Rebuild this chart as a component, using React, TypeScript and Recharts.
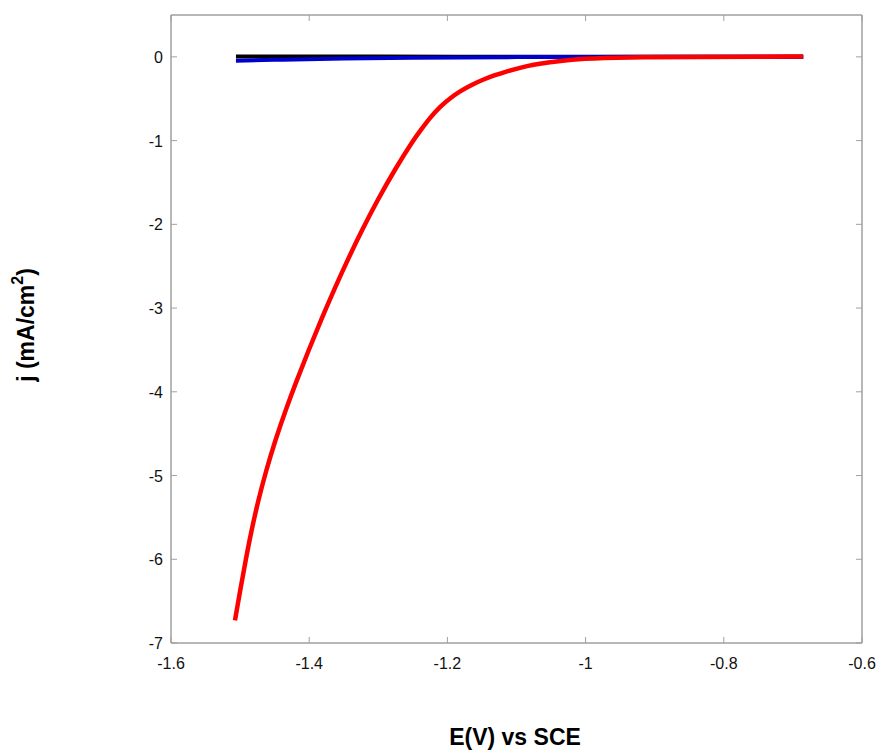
import React from 'react';
import { LineChart, Line, XAxis, YAxis, ReferenceArea } from 'recharts';

const redE = [-1.5074, -1.4999, -1.492, -1.4835, -1.4737, -1.4622, -1.4491, -1.4342, -1.4179, -1.4007, -1.3828, -1.3641, -1.3444, -1.3234, -1.3009, -1.2763, -1.2489, -1.2382, -1.2252, -1.2107, -1.1962, -1.1818, -1.1658, -1.1485, -1.1311, -1.1137, -1.0949, -1.0761, -1.0515, -1.0269, -1.0009, -0.9792, -0.9213, -0.8344, -0.7476, -0.6854];
const redJ = [-6.731, -6.372, -6.013, -5.654, -5.295, -4.937, -4.578, -4.219, -3.86, -3.501, -3.142, -2.783, -2.425, -2.066, -1.707, -1.348, -0.989, -0.87, -0.726, -0.594, -0.493, -0.411, -0.337, -0.272, -0.218, -0.172, -0.13, -0.094, -0.062, -0.039, -0.023, -0.012, -0.004, 0, 0.002, 0.005];
const blueE = [-1.506, -1.45, -1.35, -1.25, -1.1, -0.9, -0.685];
const blueJ = [-0.045, -0.035, -0.02, -0.01, -0.003, 0, 0];
const blackE = [-1.506, -1.3, -1.0, -0.685];
const blackJ = [0.003, 0.003, 0.002, 0.002];

const xTicks = [-1.6, -1.4, -1.2, -1, -0.8, -0.6];
const yTicks = [-7, -6, -5, -4, -3, -2, -1, 0];

const toData = (es: number[], js: number[]) => es.map((E, i) => ({ E, j: js[i] }));
const red = toData(redE, redJ);
const blue = toData(blueE, blueJ);
const black = toData(blackE, blackJ);

const FONT = '"Liberation Sans", Arial, sans-serif';
const AXIS = '#a0a0a0';

const fmt = (v: number) => String(Number(v.toFixed(2)));

const BottomTick = (p: any) => (
  <g>
    <line x1={p.x} y1={p.y} x2={p.x} y2={p.y - 6} stroke={AXIS} />
    <text x={p.x} y={p.y + 26} textAnchor="middle" fontSize={16} fontFamily={FONT} fill="#111">{fmt(p.payload.value)}</text>
  </g>
);
const TopTick = (p: any) => (
  <line x1={p.x} y1={p.y} x2={p.x} y2={p.y + 6} stroke={AXIS} />
);
const LeftTick = (p: any) => (
  <g>
    <line x1={p.x} y1={p.y} x2={p.x + 6} y2={p.y} stroke={AXIS} />
    <text x={p.x - 8} y={p.y + 6} textAnchor="end" fontSize={16} fontFamily={FONT} fill="#111">{fmt(p.payload.value)}</text>
  </g>
);
const RightTick = (p: any) => (
  <line x1={p.x} y1={p.y} x2={p.x - 6} y2={p.y} stroke={AXIS} />
);

export default function App() {
  return (
    <div style={{ position: 'absolute', left: 0, top: 0, width: 878, height: 751, background: '#fff' }}>
      <LineChart width={878} height={751} margin={{ top: 14, right: 15, bottom: 78, left: 111 }}>
        <XAxis xAxisId="b" type="number" dataKey="E" domain={[-1.6, -0.6]} ticks={xTicks} orientation="bottom" height={30}
          stroke={AXIS} tickSize={0} tickMargin={0} tickLine={false} tick={BottomTick} allowDataOverflow />
        <XAxis xAxisId="t" type="number" dataKey="E" domain={[-1.6, -0.6]} ticks={xTicks} orientation="top" height={1}
          stroke={AXIS} tickSize={0} tickMargin={0} tickLine={false} tick={TopTick} allowDataOverflow />
        <YAxis yAxisId="l" type="number" dataKey="j" domain={[-7, 0.5]} ticks={yTicks} orientation="left" width={60}
          stroke={AXIS} tickSize={0} tickMargin={0} tickLine={false} tick={LeftTick} allowDataOverflow />
        <YAxis yAxisId="r" type="number" dataKey="j" domain={[-7, 0.5]} ticks={yTicks} orientation="right" width={1}
          stroke={AXIS} tickSize={0} tickMargin={0} tickLine={false} tick={RightTick} allowDataOverflow />
        <ReferenceArea xAxisId="b" yAxisId="l" x1={-1.6} x2={-0.6} y1={-7} y2={0.5} fill="none" stroke={AXIS} strokeWidth={1} ifOverflow="visible" />
        <Line xAxisId="b" yAxisId="l" data={black} dataKey="j" type="monotone" stroke="#000000" strokeWidth={4} dot={false} isAnimationActive={false} />
        <Line xAxisId="b" yAxisId="l" data={blue} dataKey="j" type="monotone" stroke="#0000cc" strokeWidth={4} dot={false} isAnimationActive={false} />
        <Line xAxisId="b" yAxisId="l" data={red} dataKey="j" type="basis" stroke="#ff0000" strokeWidth={4.5} dot={false} isAnimationActive={false} />
      </LineChart>
      <svg width={878} height={751} style={{ position: 'absolute', left: 0, top: 0, pointerEvents: 'none' }}>
        <text x={515} y={745} textAnchor="middle" fontSize={23} fontWeight="bold" fontFamily={FONT} fill="#000">E(V) vs SCE</text>
        <text transform="translate(34,325) rotate(-90)" textAnchor="middle" fontSize={23} fontWeight="bold" fontFamily={FONT} fill="#000">
          j (mA/cm<tspan fontSize={16} dy={-11}>2</tspan><tspan dy={11}>)</tspan>
        </text>
      </svg>
    </div>
  );
}
